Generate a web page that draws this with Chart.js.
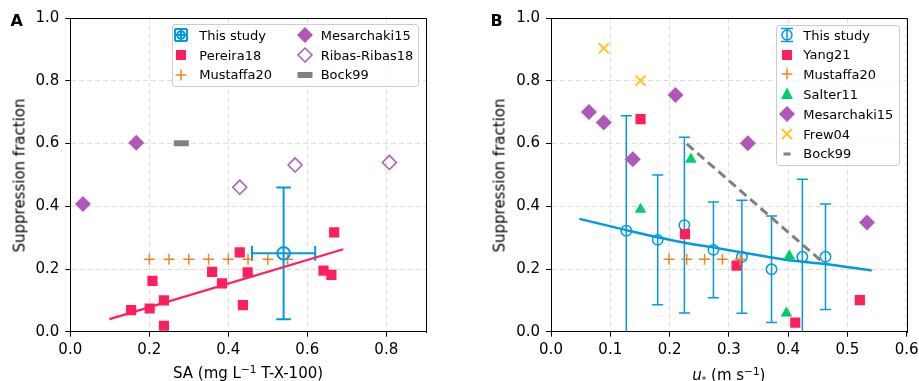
<!DOCTYPE html>
<html><head><meta charset="utf-8">
<script src="https://cdn.jsdelivr.net/npm/chart.js@4.4.1/dist/chart.umd.min.js"></script>
<style>
html,body{margin:0;padding:0;background:#fff;overflow:hidden;width:919px;height:381px;}
#wrap{position:relative;width:919px;height:381px;overflow:hidden;font-family:'DejaVu Sans',sans-serif;}
canvas{position:absolute;top:0;}
.ov{position:absolute;color:#000;white-space:nowrap;pointer-events:none;font-family:'DejaVu Sans',sans-serif;}
.legend{position:absolute;background:rgba(255,255,255,0.8);border:1px solid #cccccc;border-radius:3px;box-sizing:border-box;pointer-events:none;}
.lt{position:absolute;font-size:13px;line-height:20px;height:20px;white-space:nowrap;color:#000;font-family:'DejaVu Sans',sans-serif;}
.lm{position:absolute;overflow:visible;}
</style></head>
<body>
<div id="wrap">
  <canvas id="cA" width="460" height="381" style="left:0px;width:460px;height:381px"></canvas>
  <canvas id="cB" width="470" height="381" style="left:460px;width:470px;height:381px"></canvas>
  <div class="ov" style="left:10.5px;top:13px;font-weight:bold;font-size:16px;line-height:16px">A</div>
  <div class="ov" style="left:490.5px;top:13px;font-weight:bold;font-size:16px;line-height:16px">B</div>
  <div class="ov" style="left:-137.2px;top:167.5px;width:314px;height:15px;line-height:15px;font-size:15px;text-align:center;transform:rotate(-90deg)">Suppression fraction</div>
  <div class="ov" style="left:342.8px;top:167.5px;width:314px;height:15px;line-height:15px;font-size:15px;text-align:center;transform:rotate(-90deg)">Suppression fraction</div>
  <div class="ov" style="left:70.3px;top:365.9px;width:355.5px;line-height:15px;font-size:15px;text-align:center">SA (mg L<span style="font-size:10.5px;position:relative;top:-5px">−1</span> T-X-100)</div>
  <div class="ov" style="left:551px;top:367.5px;width:355.7px;line-height:15px;font-size:15px;text-align:center"><i>u</i><span style="font-size:9px;position:relative;top:3px">*</span> (m s<span style="font-size:10.5px;position:relative;top:-5px">−1</span>)</div>
  <div id="legA" class="legend" style="left:171.7px;top:24px;width:247.6px;height:63.3px"></div>
  <div id="legB" class="legend" style="left:776px;top:24.5px;width:124px;height:141px"></div>
</div>
<script>
// ---------------- Series names ----------------
const nStudy = 'This study', nPereira = 'Pereira18', nMustaffa = 'Mustaffa20', nMesarchaki = 'Mesarchaki15',
      nRibas = 'Ribas-Ribas18', nBock = 'Bock99', nYang = 'Yang21', nSalter = 'Salter11', nFrew = 'Frew04';

// ---------------- Panel A data (x: SA, y: suppression fraction) ----------------
const saStudy = [0.540];
const supStudyA = [0.250];
const saStudyErr = [0.08];
const supStudyErrA = [0.21];
const saPereira = [0.154, 0.201, 0.208, 0.237, 0.237, 0.359, 0.384, 0.429, 0.437, 0.449, 0.641, 0.661, 0.668];
const supPereira = [0.069, 0.074, 0.162, 0.100, 0.019, 0.191, 0.154, 0.253, 0.085, 0.189, 0.195, 0.181, 0.317];
const saPereiraFit = [0.099, 0.691];
const supPereiraFit = [0.040, 0.263];
const saMustaffa = [0.20, 0.25, 0.30, 0.35, 0.40, 0.45, 0.50, 0.55];
const supMustaffaA = [0.231, 0.231, 0.231, 0.231, 0.231, 0.231, 0.231, 0.231];
const saMesarchaki = [0.032, 0.167];
const supMesarchakiA = [0.407, 0.603];
const saRibas = [0.429, 0.569, 0.808];
const supRibas = [0.461, 0.532, 0.540];
const saBock = [0.281];
const supBockA = [0.601];

// ---------------- Panel B data (x: u*, y: suppression fraction) ----------------
const uStudy = [0.127, 0.180, 0.225, 0.274, 0.322, 0.372, 0.424, 0.463];
const supStudyB = [0.322, 0.293, 0.340, 0.261, 0.239, 0.199, 0.239, 0.239];
const supStudyErrB = [0.367, 0.207, 0.280, 0.153, 0.180, 0.170, 0.247, 0.168];
const uStudyFit = [0.048, 0.127, 0.180, 0.225, 0.274, 0.322, 0.372, 0.424, 0.463, 0.541];
const supStudyFit = [0.360, 0.324, 0.301, 0.284, 0.269, 0.253, 0.237, 0.223, 0.216, 0.195];
const uYang = [0.151, 0.226, 0.313, 0.412, 0.521];
const supYang = [0.678, 0.311, 0.211, 0.029, 0.101];
const uMustaffa = [0.199, 0.229, 0.259, 0.289, 0.319];
const supMustaffaB = [0.231, 0.231, 0.231, 0.231, 0.231];
const uSalter = [0.151, 0.236, 0.402, 0.397];
const supSalter = [0.390, 0.550, 0.241, 0.059];
const uMesarchaki = [0.064, 0.089, 0.138, 0.210, 0.332, 0.533];
const supMesarchakiB = [0.701, 0.667, 0.550, 0.755, 0.601, 0.348];
const uFrew = [0.089, 0.151];
const supFrew = [0.904, 0.801];
const uBock = [0.229, 0.455];
const supBockB = [0.599, 0.227];

// ---------------- Tick values ----------------
const xTicksA = [0.0, 0.2, 0.4, 0.6, 0.8];
const xTicksB = [0.0, 0.1, 0.2, 0.3, 0.4, 0.5, 0.6];
const yTicks = [0.0, 0.2, 0.4, 0.6, 0.8, 1.0];

// ---------------- Styles ----------------
const BLUE = '#009ade', RED = '#ff1f5b', ORANGE = '#f28522', PURPLE = '#af58ba',
      GREEN = '#00cd6c', YELLOW = '#ffc61e', GRAY = '#808080';
const FONT = "'DejaVu Sans', sans-serif";
Chart.defaults.font.family = FONT;

const pts = (xs, ys) => xs.map((x, i) => ({x: x, y: ys[i]}));

// error bar plugin (uses the chart's own scales)
const errorBars = {
  id: 'errorBars',
  beforeDatasetsDraw(chart) {
    const {ctx, chartArea, scales} = chart;
    const sx = scales.x, sy = scales.y;
    ctx.save();
    ctx.beginPath();
    ctx.rect(chartArea.left, chartArea.top, chartArea.right - chartArea.left, chartArea.bottom - chartArea.top);
    ctx.clip();
    const seg = (x1, y1, x2, y2) => { ctx.beginPath(); ctx.moveTo(x1, y1); ctx.lineTo(x2, y2); ctx.stroke(); };
    chart.data.datasets.forEach(ds => {
      const eb = ds.errorBar;
      if (!eb) return;
      ctx.strokeStyle = eb.color; ctx.lineWidth = eb.width; ctx.lineCap = 'butt';
      ds.data.forEach((p, i) => {
        const px = sx.getPixelForValue(p.x), py = sy.getPixelForValue(p.y);
        if (eb.yErr) {
          const e = eb.yErr[i];
          const y1 = sy.getPixelForValue(p.y - e), y2 = sy.getPixelForValue(p.y + e);
          seg(px, y1, px, y2);
          seg(px - eb.cap, y1, px + eb.cap, y1);
          seg(px - eb.cap, y2, px + eb.cap, y2);
        }
        if (eb.xErr) {
          const e = eb.xErr[i];
          const x1 = sx.getPixelForValue(p.x - e), x2 = sx.getPixelForValue(p.x + e);
          seg(x1, py, x2, py);
          seg(x1, py - eb.cap, x1, py + eb.cap);
          seg(x2, py - eb.cap, x2, py + eb.cap);
        }
      });
    });
    ctx.restore();
  }
};
// top/right spines
const frame = {
  id: 'frame',
  afterDraw(chart) {
    const {ctx, chartArea} = chart;
    const t = Math.round(chartArea.top) + 0.5, r = Math.round(chartArea.right) + 0.5;
    ctx.save();
    ctx.strokeStyle = '#000'; ctx.lineWidth = 1;
    ctx.beginPath();
    ctx.moveTo(Math.round(chartArea.left), t); ctx.lineTo(r, t); ctx.lineTo(r, Math.round(chartArea.bottom) + 1);
    ctx.stroke();
    ctx.restore();
  }
};

function axisOpts(ticksArr, extra) {
  return Object.assign({
    type: 'linear',
    afterBuildTicks: s => { s.ticks = ticksArr.map(v => ({value: v})); },
    ticks: {callback: v => Number(v).toFixed(1), color: '#000', font: {family: FONT, size: 15}, autoSkip: false, maxRotation: 0},
    grid: {color: '#dcdcdc', lineWidth: 1, tickLength: 5, tickColor: '#000', tickWidth: 1, drawTicks: true},
    border: {display: true, color: '#000', width: 1, dash: [5, 3]}
  }, extra);
}

function makeChart(id, datasets, cfg) {
  const xo = axisOpts(cfg.xTicks, {min: 0, max: cfg.xMax, afterFit: s => { s.height = 30; }});
  xo.ticks.padding = 4;
  const yo = axisOpts(yTicks, {min: 0, max: 1, afterFit: s => { s.width = cfg.yW; }});
  yo.ticks.padding = 6;
  return new Chart(document.getElementById(id), {
    type: 'scatter',
    data: {datasets: datasets},
    options: {
      responsive: false, animation: false, devicePixelRatio: 1, events: [],
      layout: {padding: {left: 0, right: cfg.padR, top: 18.2, bottom: 19.3}},
      plugins: {legend: {display: false}, tooltip: {enabled: false}},
      scales: {x: xo, y: yo}
    },
    plugins: [errorBars, frame]
  });
}

// ---------------- Panel A ----------------
const dsA = [
  {label: nStudy, data: pts(saStudy, supStudyA), order: 0, pointStyle: 'circle', pointRadius: 6.3,
   pointBorderColor: BLUE, pointBackgroundColor: 'rgba(0,0,0,0)', pointBorderWidth: 2,
   errorBar: {xErr: saStudyErr, yErr: supStudyErrA, color: BLUE, width: 2, cap: 7.3}},
  {label: nBock, data: pts(saBock, supBockA), order: 1, pointStyle: 'line', pointRadius: 7.5,
   pointBorderColor: GRAY, pointBorderWidth: 6},
  {label: nRibas, data: pts(saRibas, supRibas), order: 2, pointStyle: 'rectRot', pointRadius: 7,
   pointBorderColor: PURPLE, pointBackgroundColor: 'rgba(0,0,0,0)', pointBorderWidth: 1.5},
  {label: nMesarchaki, data: pts(saMesarchaki, supMesarchakiA), order: 3, pointStyle: 'rectRot', pointRadius: 8,
   pointBackgroundColor: PURPLE, pointBorderColor: PURPLE, pointBorderWidth: 0},
  {label: nMustaffa, data: pts(saMustaffa, supMustaffaA), order: 4, pointStyle: 'cross', pointRadius: 5.5,
   pointBorderColor: ORANGE, pointBorderWidth: 1.5},
  {label: nPereira, data: pts(saPereira, supPereira), order: 5, pointStyle: 'rect', pointRadius: 7.2,
   pointBackgroundColor: RED, pointBorderColor: RED, pointBorderWidth: 0},
  {label: nPereira + ' fit', data: pts(saPereiraFit, supPereiraFit), order: 6, showLine: true, pointRadius: 0,
   borderColor: RED, borderWidth: 2.2, fill: false}
];
makeChart('cA', dsA, {xTicks: xTicksA, xMax: 0.9, yW: 70.3, padR: 460 - 425.8});

// ---------------- Panel B ----------------
const dsB = [
  {label: nFrew, data: pts(uFrew, supFrew), order: 0, pointStyle: 'crossRot', pointRadius: 7.2,
   pointBorderColor: YELLOW, pointBorderWidth: 2},
  {label: nMesarchaki, data: pts(uMesarchaki, supMesarchakiB), order: 1, pointStyle: 'rectRot', pointRadius: 8,
   pointBackgroundColor: PURPLE, pointBorderColor: PURPLE, pointBorderWidth: 0},
  {label: nSalter, data: pts(uSalter, supSalter), order: 2, pointStyle: 'triangle', pointRadius: 6.8,
   pointBackgroundColor: GREEN, pointBorderColor: GREEN, pointBorderWidth: 0},
  {label: nMustaffa, data: pts(uMustaffa, supMustaffaB), order: 3, pointStyle: 'cross', pointRadius: 5.5,
   pointBorderColor: ORANGE, pointBorderWidth: 1.5},
  {label: nYang, data: pts(uYang, supYang), order: 4, pointStyle: 'rect', pointRadius: 7.2,
   pointBackgroundColor: RED, pointBorderColor: RED, pointBorderWidth: 0},
  {label: nBock, data: pts(uBock, supBockB), order: 5, showLine: true, pointRadius: 0,
   borderColor: GRAY, borderWidth: 3, borderDash: [9, 5], fill: false},
  {label: nStudy + ' fit', data: pts(uStudyFit, supStudyFit), order: 6, showLine: true, pointRadius: 0,
   borderColor: BLUE, borderWidth: 2.5, fill: false, cubicInterpolationMode: 'monotone'},
  {label: nStudy, data: pts(uStudy, supStudyB), order: 7, pointStyle: 'circle', pointRadius: 5.2,
   pointBorderColor: BLUE, pointBackgroundColor: 'rgba(0,0,0,0)', pointBorderWidth: 1.5,
   errorBar: {yErr: supStudyErrB, color: BLUE, width: 1.5, cap: 5.5}}
];
makeChart('cB', dsB, {xTicks: xTicksB, xMax: 0.6, yW: 91, padR: 470 - 446.7});

// ---------------- HTML legends ----------------
function marker(kind, color) {
  let g = '';
  switch (kind) {
    case 'errXY':
      g = `<g stroke="${color}" stroke-width="2" fill="none"><line x1="0" y1="-6" x2="0" y2="6"/><line x1="-6" y1="0" x2="6" y2="0"/>` +
          `<line x1="-6" y1="-6" x2="6" y2="-6"/><line x1="-6" y1="6" x2="6" y2="6"/><line x1="-6" y1="-6" x2="-6" y2="6"/><line x1="6" y1="-6" x2="6" y2="6"/>` +
          `<circle cx="0" cy="0" r="3.8"/></g>`; break;
    case 'errY':
      g = `<g stroke="${color}" stroke-width="1.5" fill="none"><line x1="0" y1="-6.5" x2="0" y2="6.5"/><line x1="-6" y1="-6.5" x2="6" y2="-6.5"/>` +
          `<line x1="-6" y1="6.5" x2="6" y2="6.5"/><circle cx="0" cy="0" r="5"/></g>`; break;
    case 'square': g = `<rect x="-5" y="-5" width="10" height="10" fill="${color}"/>`; break;
    case 'plus': g = `<g stroke="${color}" stroke-width="1.5"><line x1="-5.5" y1="0" x2="5.5" y2="0"/><line x1="0" y1="-5.5" x2="0" y2="5.5"/></g>`; break;
    case 'diamond': g = `<polygon points="0,-8 8,0 0,8 -8,0" fill="${color}"/>`; break;
    case 'diamondOpen': g = `<polygon points="0,-7 7,0 0,7 -7,0" fill="none" stroke="${color}" stroke-width="1.5"/>`; break;
    case 'triangle': g = `<polygon points="0,-6.5 6,5 -6,5" fill="${color}"/>`; break;
    case 'x': g = `<g stroke="${color}" stroke-width="2"><line x1="-5" y1="-5" x2="5" y2="5"/><line x1="-5" y1="5" x2="5" y2="-5"/></g>`; break;
    case 'bar': g = `<rect x="-7.5" y="-3" width="15" height="6" fill="${color}"/>`; break;
    case 'dash': g = `<rect x="-3.5" y="-1.5" width="7" height="3" fill="${color}"/>`; break;
  }
  return g;
}
function buildLegend(el, box, items, cols) {
  let html = '';
  items.forEach(it => {
    const mx = it.mx - box.left, my = it.my - box.top;
    html += `<svg class="lm" width="20" height="20" viewBox="-10 -10 20 20" style="left:${mx - 10}px;top:${my - 10}px">${marker(it.kind, it.color)}</svg>`;
    html += `<div class="lt" style="left:${it.tx - box.left}px;top:${my - 9.5}px">${it.label}</div>`;
  });
  el.innerHTML = html;
}
const rowsA = [35.3, 55, 74.7];
const legA = [
  {label: nStudy, kind: 'errXY', color: BLUE, mx: 180.8, tx: 199.3, my: rowsA[0]},
  {label: nPereira, kind: 'square', color: RED, mx: 180.8, tx: 199.3, my: rowsA[1]},
  {label: nMustaffa, kind: 'plus', color: ORANGE, mx: 180.8, tx: 199.3, my: rowsA[2]},
  {label: nMesarchaki, kind: 'diamond', color: PURPLE, mx: 305, tx: 320.7, my: rowsA[0]},
  {label: nRibas, kind: 'diamondOpen', color: PURPLE, mx: 305, tx: 320.7, my: rowsA[1]},
  {label: nBock, kind: 'bar', color: GRAY, mx: 305, tx: 320.7, my: rowsA[2]}
];
// the legend box borders are 1px; coordinates are measured from the page, minus box offset incl. border
buildLegend(document.getElementById('legA'), {left: 172.7, top: 25}, legA);
const rowsB = [35, 54.5, 74, 94, 114, 134, 153.5];
const legB = [
  {label: nStudy, kind: 'errY', color: BLUE},
  {label: nYang, kind: 'square', color: RED},
  {label: nMustaffa, kind: 'plus', color: ORANGE},
  {label: nSalter, kind: 'triangle', color: GREEN},
  {label: nMesarchaki, kind: 'diamond', color: PURPLE},
  {label: nFrew, kind: 'x', color: YELLOW},
  {label: nBock, kind: 'dash', color: GRAY}
].map((it, i) => Object.assign(it, {mx: 787.3, tx: 803.3, my: rowsB[i]}));
buildLegend(document.getElementById('legB'), {left: 777, top: 25.5}, legB);
</script>
</body></html>
